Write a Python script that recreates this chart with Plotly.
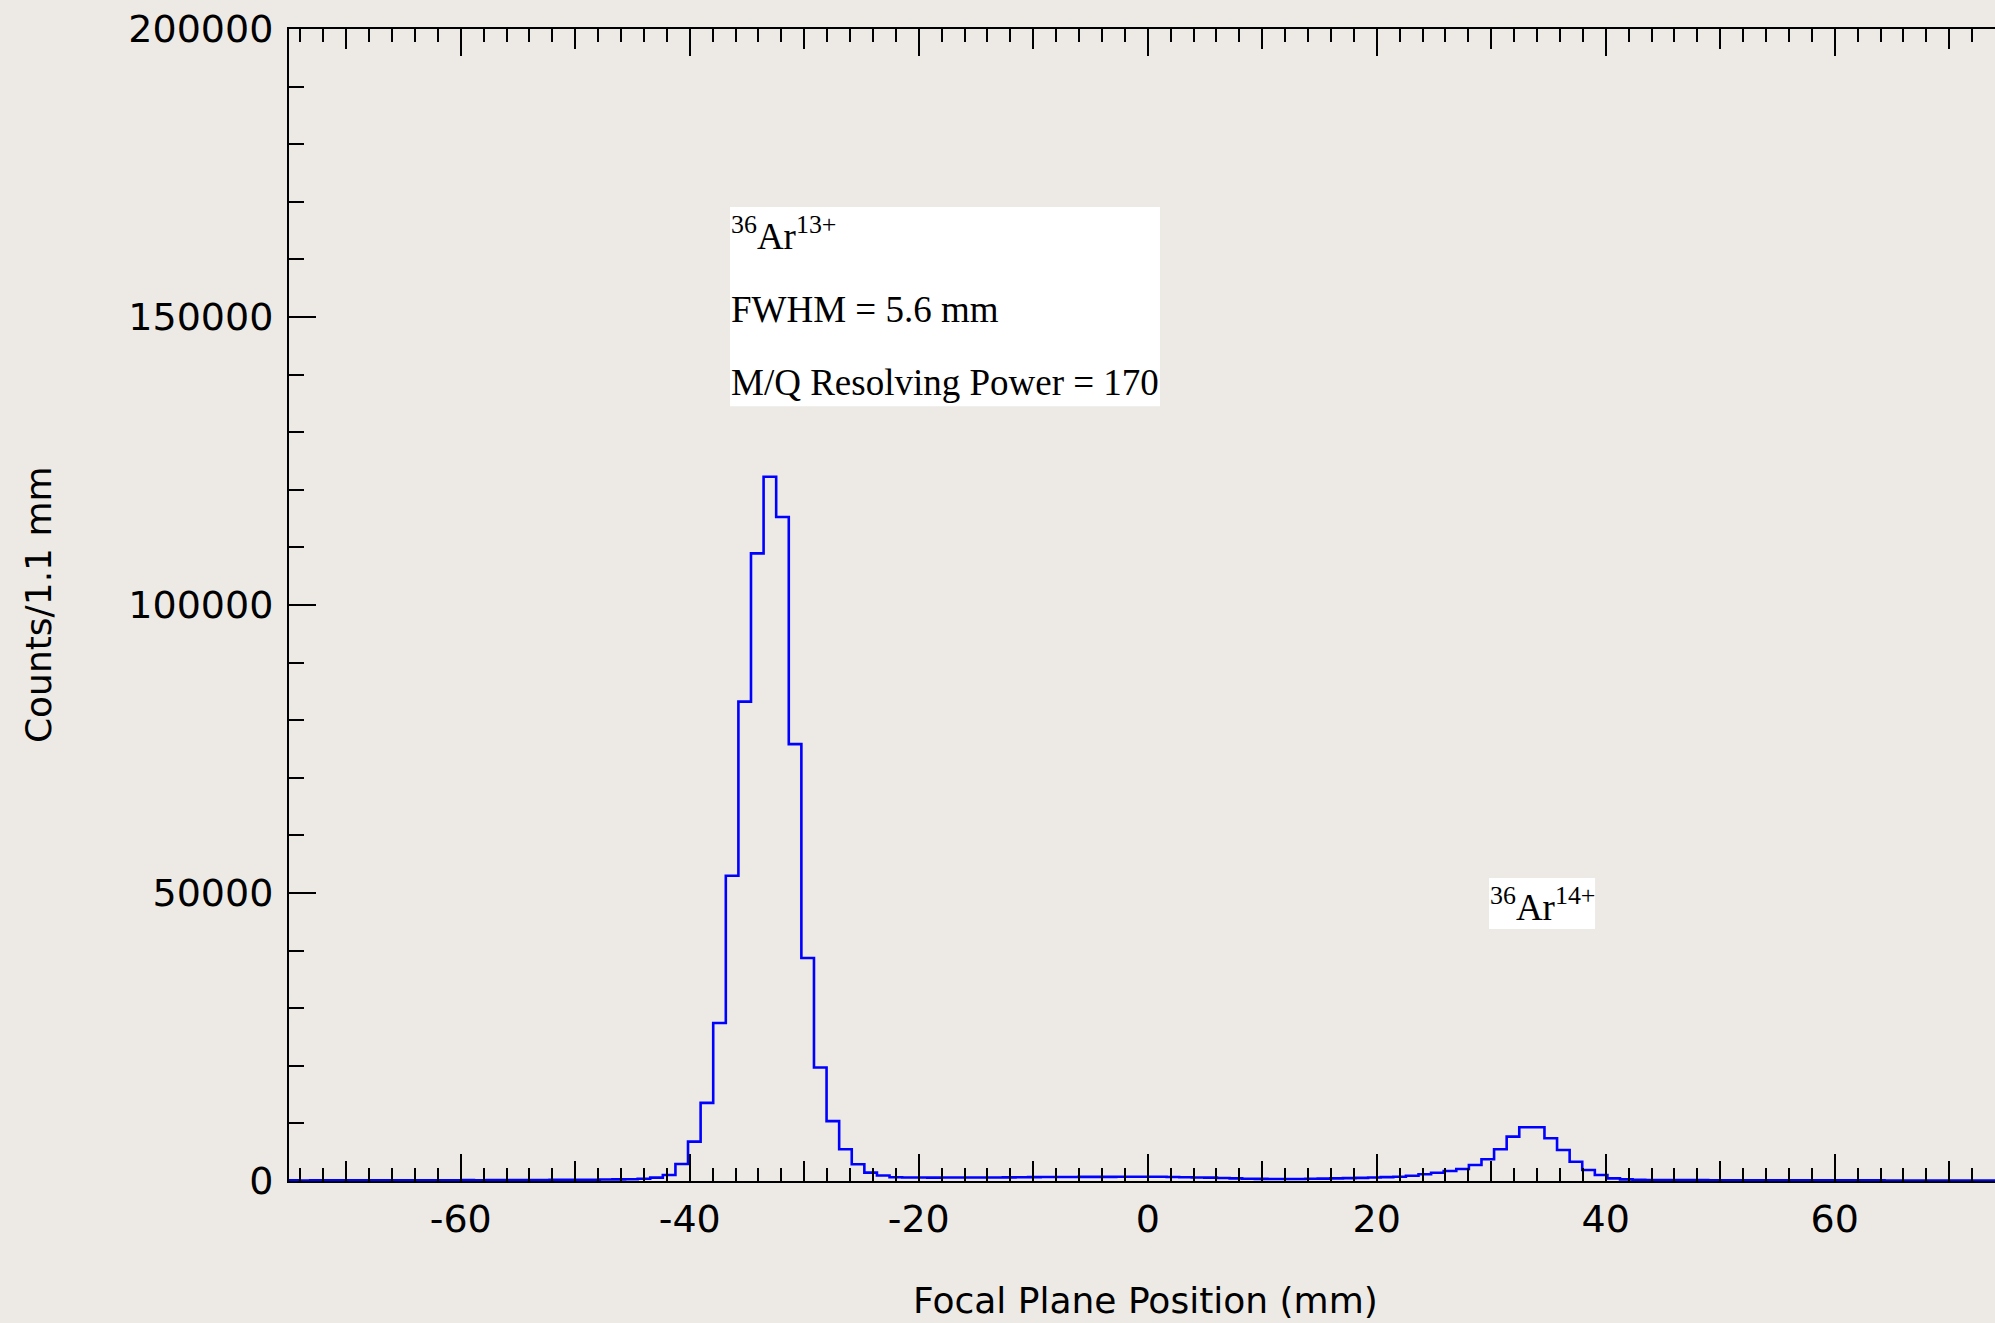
import plotly.graph_objects as go

# Histogram binning along the focal plane (1.1 mm bins, centred on 0)
bin_width = 1.1
bin_index = list(range(-68, 69))

# Counts per bin, from the lowest to the highest focal-plane position
counts = [
    100, 90, 110, 100, 120, 100, 110, 130, 120, 110, 130, 140, 120,
    130, 150, 140, 160, 150, 170, 160, 180, 190, 200, 210, 230, 250,
    280, 300, 400, 580, 1040, 2950, 6840, 13560, 27430, 53000, 83230,
    108970, 122260, 115280, 75840, 38720, 19700, 10400, 5500, 2900,
    1460, 950, 640,
    620, 600, 590, 600, 610, 600, 610, 620, 630, 650, 670,
    690, 700, 700, 710, 720, 720, 730, 740,
    750,
    730, 700, 660, 620, 580,
    520, 450, 400, 370, 350, 350, 360, 380,
    420, 460, 500, 550,
    600, 680, 750, 920, 1160, 1440, 1740, 2080, 2780, 3770, 5500,
    7700, 9320, 9320, 7410, 5380, 3350, 1910, 1040, 460, 290,
    200, 180, 170, 160, 150, 150, 140, 140, 130, 130, 120, 120, 120,
    110, 110, 110, 100, 100, 100, 100, 90, 90, 90, 90, 80, 80, 80,
    80, 70, 70,
]

# Axis settings
x_range = [-75, 74.0]
y_range = [0, 200000]
x_tick_vals = [-60, -40, -20, 0, 20, 40, 60]
x_tick_text = ["-60", "-40", "-20", "0", "20", "40", "60"]
x_mid_ticks = [-70, -50, -30, -10, 10, 30, 50, 70]
x_minor = 2
y_tick_vals = [0, 50000, 100000, 150000, 200000]
y_tick_text = ["0", "50000", "100000", "150000", "200000"]
y_minor = 10000

# Peak annotations
main_peak_lines = [
    "<sup>36</sup>Ar<sup>13+</sup>",
    "FWHM = 5.6 mm",
    "M/Q Resolving Power = 170",
]
second_peak_label = "<sup>36</sup>Ar<sup>14+</sup>"

# Bin edges for the step outline
edges = [(j - 0.5) * bin_width for j in bin_index] + [(bin_index[-1] + 0.5) * bin_width]
step_y = counts + [counts[-1]]

BG = "#EDEAE5"
SANS = "DejaVu Sans"
SERIF = "Liberation Serif"

fig = go.Figure()
fig.add_trace(go.Scatter(
    x=edges, y=step_y, mode="lines", line_shape="hv",
    line=dict(color="#0000FF", width=2.6), showlegend=False,
    hoverinfo="skip", xaxis="x", yaxis="y",
))
# invisible trace carrying the secondary (mid-length tick) x axis
fig.add_trace(go.Scatter(x=x_range, y=[0, 0], mode="lines",
                         line=dict(width=0), showlegend=False,
                         hoverinfo="skip", xaxis="x2", yaxis="y"))

fig.update_layout(
    width=1995, height=1323,
    margin=dict(l=289, r=0, t=29, b=142, pad=0),
    paper_bgcolor=BG, plot_bgcolor=BG,
    font=dict(family=SANS, size=38, color="black"),
    xaxis=dict(
        range=x_range, showgrid=False, zeroline=False,
        showline=True, linecolor="black", linewidth=2, mirror="ticks",
        ticks="inside", ticklen=27, tickwidth=2, tickcolor="black",
        tickmode="array", tickvals=x_tick_vals, ticktext=x_tick_text,
        tickfont=dict(family=SANS, size=38),
        ticklabelstandoff=3,
        minor=dict(ticks="inside", ticklen=13, tickwidth=2,
                   tickcolor="black", dtick=x_minor, tick0=0),
    ),
    xaxis2=dict(
        overlaying="x", matches="x", anchor="y", side="bottom",
        showgrid=False, zeroline=False, showline=False, mirror="ticks",
        ticks="inside", ticklen=20, tickwidth=2, tickcolor="black",
        tickmode="array", tickvals=x_mid_ticks, showticklabels=False,
    ),
    yaxis=dict(
        range=y_range, showgrid=False, zeroline=False,
        showline=True, linecolor="black", linewidth=2,
        ticks="inside", ticklen=27, tickwidth=2, tickcolor="black",
        tickmode="array", tickvals=y_tick_vals, ticktext=y_tick_text,
        tickfont=dict(family=SANS, size=38),
        ticklabelstandoff=6,
        minor=dict(ticks="inside", ticklen=15, tickwidth=2,
                   tickcolor="black", dtick=y_minor, tick0=0),
    ),
)

# Axis titles
fig.add_annotation(text="Counts/1.1 mm", xref="paper", yref="paper",
                   x=-0.1471, y=0.5, textangle=-90, showarrow=False,
                   xanchor="center", yanchor="middle",
                   font=dict(family=SANS, size=36))
fig.add_annotation(text="Focal Plane Position (mm)", xref="paper", yref="paper",
                   x=0.5023, y=-0.1033, showarrow=False,
                   xanchor="center", yanchor="middle",
                   font=dict(family=SANS, size=36))

# White label boxes
fig.add_shape(type="rect", xref="x", yref="y", x0=-36.48, x1=1.07,
              y0=134500, y1=169100, fillcolor="white", line=dict(width=0))
fig.add_shape(type="rect", xref="x", yref="y", x0=29.81, x1=39.07,
              y0=43750, y1=52600, fillcolor="white", line=dict(width=0))

for text, y in zip(main_peak_lines, [160000, 147400, 134720]):
    fig.add_annotation(text=text, xref="x", yref="y", x=-36.57, y=y,
                       xanchor="left", yanchor="bottom", showarrow=False,
                       font=dict(family=SERIF, size=37, color="black"))
fig.add_annotation(text=second_peak_label, xref="x", yref="y", x=29.72, y=43580,
                   xanchor="left", yanchor="bottom", showarrow=False,
                   font=dict(family=SERIF, size=37, color="black"))

fig.write_html("out.html")
